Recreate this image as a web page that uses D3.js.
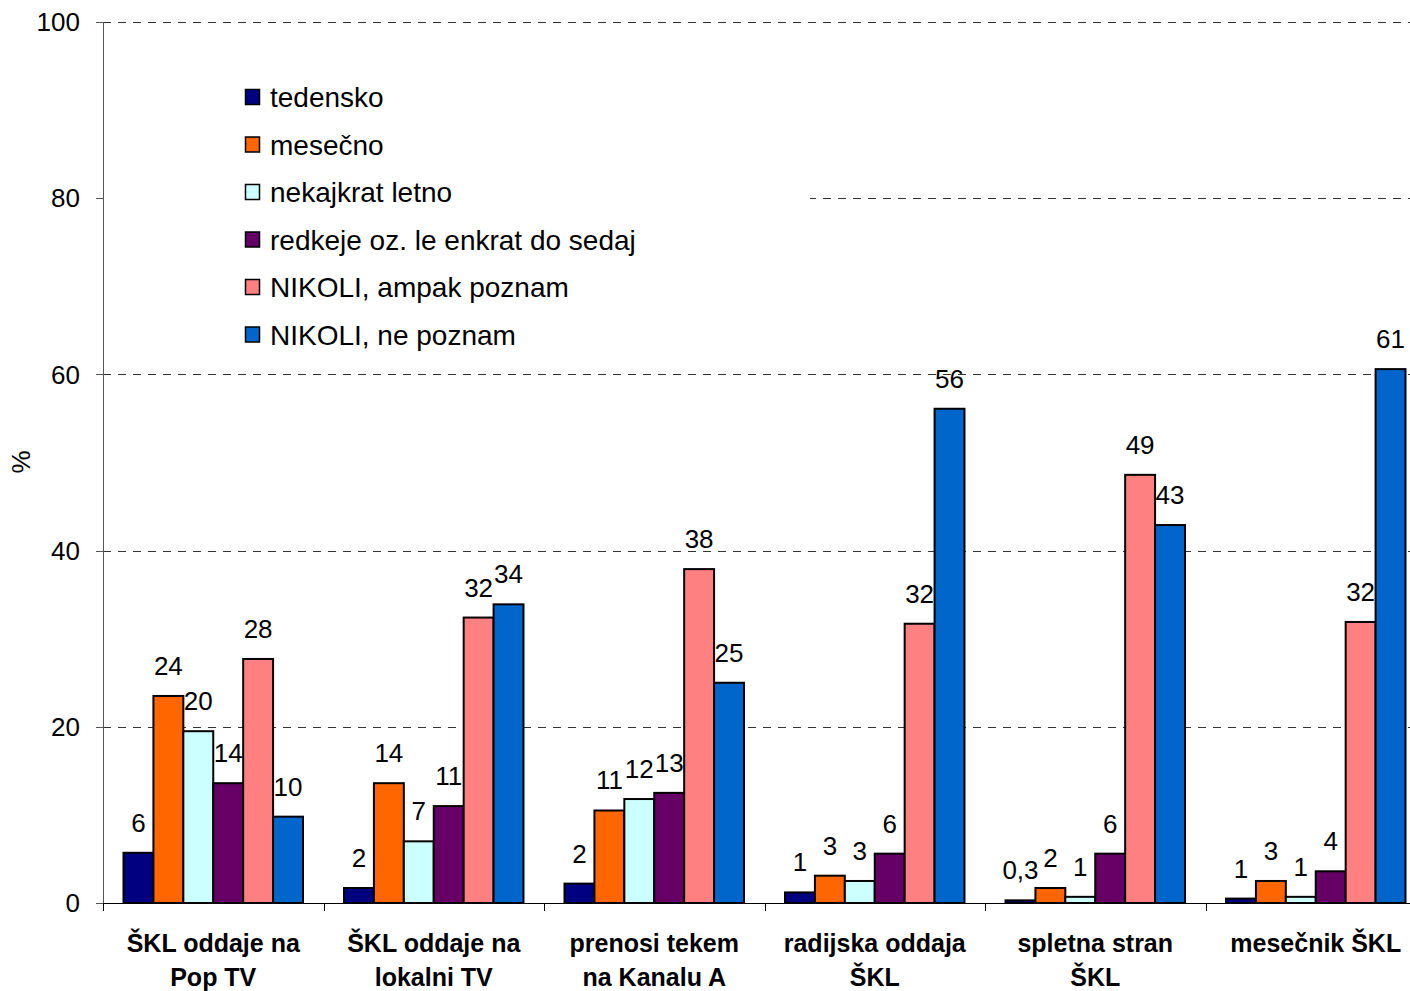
<!DOCTYPE html>
<html>
<head>
<meta charset="utf-8">
<script src="https://cdn.jsdelivr.net/npm/d3@7"></script>
<style>
  body { margin: 0; background: #fff; }
  svg { display: block; font-family: "Liberation Sans", Arial, sans-serif; }
</style>
</head>
<body>
<div id="chart"></div>
<script>
///data
var categories = [
  ["ŠKL oddaje na", "Pop TV"],
  ["ŠKL oddaje na", "lokalni TV"],
  ["prenosi tekem", "na Kanalu A"],
  ["radijska oddaja", "ŠKL"],
  ["spletna stran", "ŠKL"],
  ["mesečnik ŠKL"]
];
var seriesNames = ["tedensko", "mesečno", "nekajkrat letno", "redkeje oz. le enkrat do sedaj", "NIKOLI, ampak poznam", "NIKOLI, ne poznam"];
var seriesColors = ["#000080", "#FF6600", "#CCFFFF", "#660066", "#FF8080", "#0066CC"];

var tedensko   = [5.7, 1.7, 2.2, 1.2, 0.3, 0.5];
var mesecno    = [23.5, 13.6, 10.5, 3.1, 1.7, 2.5];
var nekajkrat  = [19.5, 7.0, 11.8, 2.5, 0.7, 0.7];
var redkeje    = [13.6, 11.0, 12.5, 5.6, 5.6, 3.6];
var nikoliPoz  = [27.7, 32.4, 37.9, 31.7, 48.6, 31.9];
var nikoliNe   = [9.8, 33.9, 25.0, 56.1, 42.9, 60.6];

var tedenskoLbl  = ["6", "2", "2", "1", "0,3", "1"];
var mesecnoLbl   = ["24", "14", "11", "3", "2", "3"];
var nekajkratLbl = ["20", "7", "12", "3", "1", "1"];
var redkejeLbl   = ["14", "11", "13", "6", "6", "4"];
var nikoliPozLbl = ["28", "32", "38", "32", "49", "32"];
var nikoliNeLbl  = ["10", "34", "25", "56", "43", "61"];

var yTicks = [0, 20, 40, 60, 80, 100];

var values = [tedensko, mesecno, nekajkrat, redkeje, nikoliPoz, nikoliNe];
var labels = [tedenskoLbl, mesecnoLbl, nekajkratLbl, redkejeLbl, nikoliPozLbl, nikoliNeLbl];

///sizes
var width = 1410, height = 991;
var plotLeft = 103, plotTop = 22, plotBottom = 903, plotRight = 1426;

var svg = d3.select('#chart').append('svg')
    .attr('width', width)
    .attr('height', height);

var x0 = d3.scaleBand()
    .domain(d3.range(categories.length))
    .range([plotLeft, plotRight]);

var bw = x0.bandwidth();
var pad = bw * 0.093;
var x1 = d3.scaleBand()
    .domain(d3.range(seriesNames.length))
    .range([pad, bw - pad]);

var y = d3.scaleLinear()
    .domain([0, 100])
    .range([plotBottom, plotTop]);

///gridlines
svg.append('g').selectAll('line')
    .data(yTicks.filter(d => d > 0))
  .enter().append('line')
    .attr('x1', plotLeft).attr('x2', width)
    .attr('y1', d => Math.round(y(d)) + 0.5)
    .attr('y2', d => Math.round(y(d)) + 0.5)
    .attr('stroke', '#333')
    .attr('stroke-width', 1)
    .attr('stroke-dasharray', '8,7');

// legend background hides part of the gridline
svg.append('rect')
    .attr('x', plotLeft + 1).attr('y', 62)
    .attr('width', 810 - plotLeft - 1).attr('height', 296)
    .attr('fill', '#fff');

///bars
var group = svg.selectAll('g.cat')
    .data(categories)
  .enter().append('g')
    .attr('class', 'cat')
    .attr('transform', (d, i) => `translate(${x0(i)},0)`);

group.each(function(c, ci) {
  var g = d3.select(this);
  values.forEach(function(vals, si) {
    var v = vals[ci];
    g.append('rect')
        .attr('x', x1(si))
        .attr('y', y(v))
        .attr('width', x1.bandwidth())
        .attr('height', plotBottom - y(v))
        .attr('fill', seriesColors[si])
        .attr('stroke', '#000')
        .attr('stroke-width', 2);
    g.append('text')
        .attr('x', x1(si) + x1.bandwidth() / 2)
        .attr('y', y(v) - 21)
        .attr('text-anchor', 'middle')
        .style('font-size', '26px')
        .text(labels[si][ci]);
  });
});

///axes
var yAxis = svg.append('g');
yAxis.append('line')
    .attr('x1', plotLeft + 0.5).attr('x2', plotLeft + 0.5)
    .attr('y1', plotTop).attr('y2', plotBottom)
    .attr('stroke', '#555');
yAxis.selectAll('line.tick')
    .data(yTicks)
  .enter().append('line')
    .attr('x1', plotLeft - 7).attr('x2', plotLeft)
    .attr('y1', d => Math.round(y(d)) + 0.5)
    .attr('y2', d => Math.round(y(d)) + 0.5)
    .attr('stroke', '#555');
yAxis.selectAll('text')
    .data(yTicks)
  .enter().append('text')
    .attr('x', 80)
    .attr('y', d => y(d))
    .attr('dy', '0.35em')
    .attr('text-anchor', 'end')
    .style('font-size', '26px')
    .text(d => d);

svg.append('text')
    .attr('transform', 'translate(30,462) rotate(-90)')
    .attr('text-anchor', 'middle')
    .style('font-size', '26px')
    .text('%');

var xAxis = svg.append('g');
xAxis.append('line')
    .attr('x1', plotLeft).attr('x2', width)
    .attr('y1', plotBottom + 0.5).attr('y2', plotBottom + 0.5)
    .attr('stroke', '#000');
xAxis.selectAll('line.tick')
    .data(d3.range(categories.length + 1))
  .enter().append('line')
    .attr('x1', d => Math.round(plotLeft + d * bw) + 0.5)
    .attr('x2', d => Math.round(plotLeft + d * bw) + 0.5)
    .attr('y1', plotBottom).attr('y2', plotBottom + 8)
    .attr('stroke', '#000');

var xl = xAxis.selectAll('text')
    .data(categories)
  .enter().append('text')
    .attr('text-anchor', 'middle')
    .style('font-size', '25px')
    .style('font-weight', 'bold');
xl.selectAll('tspan')
    .data((d, i) => d.map(t => ({ t: t, i: i })))
  .enter().append('tspan')
    .attr('x', d => x0(d.i) + bw / 2)
    .attr('y', (d, j) => 952 + j * 34)
    .text(d => d.t);

///legend
var legend = svg.append('g').selectAll('g')
    .data(seriesNames)
  .enter().append('g')
    .attr('transform', (d, i) => `translate(245,${97 + i * 47.5})`);
legend.append('rect')
    .attr('x', 0.5).attr('y', -7.5)
    .attr('width', 14).attr('height', 15)
    .attr('fill', (d, i) => seriesColors[i])
    .attr('stroke', '#000')
    .attr('stroke-width', 1.5);
legend.append('text')
    .attr('x', 25)
    .attr('dy', '0.36em')
    .style('font-size', '28px')
    .text(d => d);
</script>
</body>
</html>
